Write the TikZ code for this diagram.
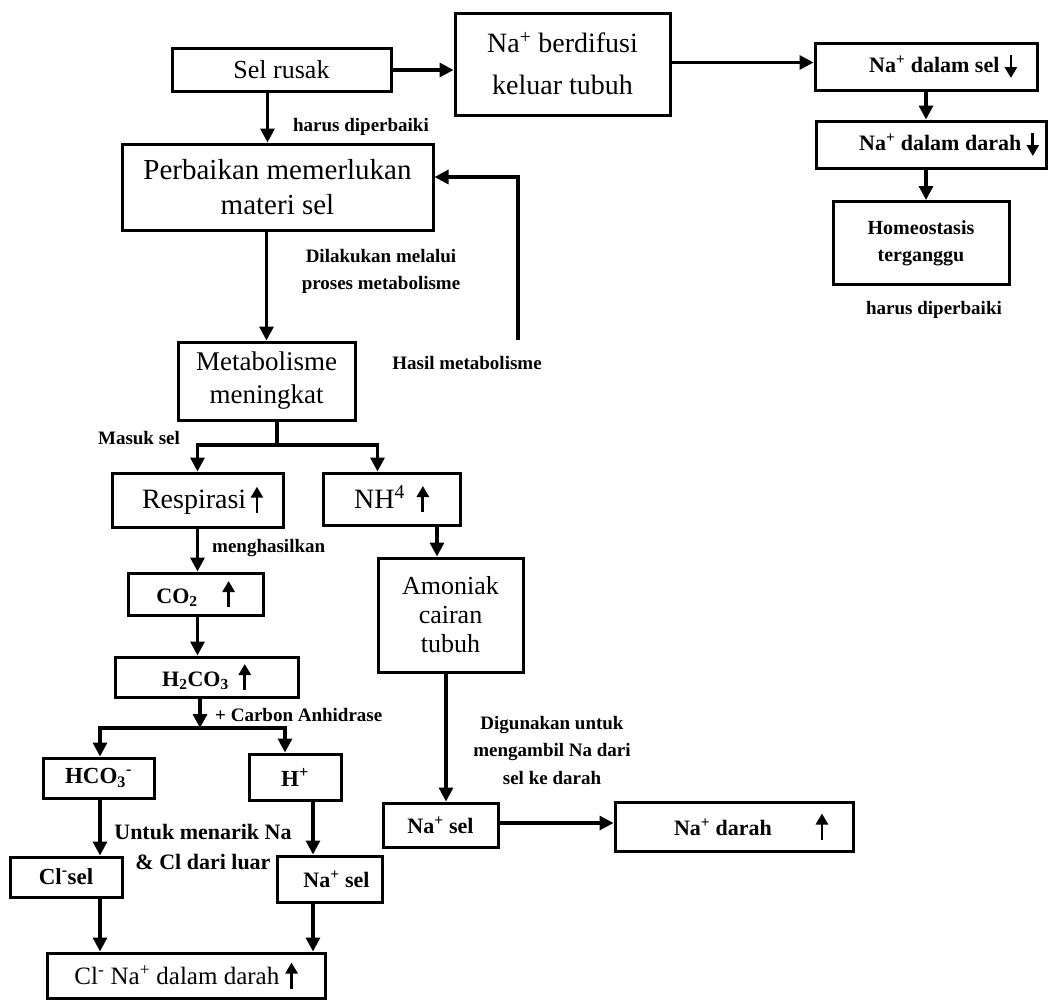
\documentclass[tikz,border=0pt]{standalone}
\usepackage{fontspec}
\setmainfont{Liberation Serif}
\usetikzlibrary{arrows.meta,calc}
\newcommand{\uparr}{\tikz[baseline=0pt]\draw[line width=2.8pt,-{Triangle[length=11pt,width=12pt]}] (0,-4pt)--(0,22pt);}
\newcommand{\dnarr}{\tikz[baseline=0pt]\draw[line width=2.8pt,-{Triangle[length=11pt,width=12pt]}] (0,17pt)--(0,-6pt);}
\begin{document}
\begin{tikzpicture}[x=1pt,y=-1pt,
  box/.style={draw,line width=3pt,inner sep=0pt,align=center},
  arr/.style={line width=3.2pt,-{Triangle[length=14pt,width=14pt]}},
  ln/.style={line width=3.2pt},
  lab/.style={font=\bfseries\fontsize{19}{27}\selectfont,align=center,inner sep=0pt}]
\useasboundingbox (0,0) rectangle (1048,1001);
% top row
\node[box,minimum width=219pt,minimum height=43pt,font=\fontsize{26}{30}\selectfont] (selrusak) at (281.5,70) {Sel rusak};
\node[box,minimum width=215pt,minimum height=102pt,font=\fontsize{28}{42}\selectfont] (difusi) at (562.5,64) {Na\textsuperscript{+} berdifusi\\keluar tubuh};
\node[box,minimum width=222pt,minimum height=47pt,font=\bfseries\fontsize{22}{25}\selectfont] (nasel) at (926,66.5) {\hspace*{34pt}Na\textsuperscript{+} dalam sel \dnarr};
\node[box,minimum width=230pt,minimum height=47pt,font=\bfseries\fontsize{22}{25}\selectfont] (nadarah) at (931,144.5) {\hspace*{36pt}Na\textsuperscript{+} dalam darah \dnarr};
\node[box,minimum width=176pt,minimum height=83pt,font=\bfseries\fontsize{20}{27}\selectfont] (homeo) at (921,243) {Homeostasis\\terganggu};
% left column
\node[box,minimum width=311pt,minimum height=86pt,font=\fontsize{29}{35}\selectfont] (perbaikan) at (277.5,187) {Perbaikan memerlukan\\materi sel};
\node[box,minimum width=177pt,minimum height=78pt,font=\fontsize{27}{33}\selectfont] (metab) at (266.5,381) {Metabolisme\\meningkat};
\node[box,minimum width=171pt,minimum height=54pt,font=\fontsize{28}{32}\selectfont] (resp) at (197.5,500) {\hspace*{10pt}Respirasi\,\uparr};
\node[box,minimum width=137pt,minimum height=52pt,font=\fontsize{28}{32}\selectfont] (nh4) at (391.5,499) {NH\textsuperscript{4}\hspace{12pt}\uparr};
\node[box,minimum width=135pt,minimum height=42pt,font=\bfseries\fontsize{22}{25}\selectfont] (co2) at (195.5,594) {CO\textsubscript{2}\hspace{25pt}\uparr};
\node[box,minimum width=183pt,minimum height=40pt,font=\bfseries\fontsize{22}{25}\selectfont] (h2co3) at (206.5,677) {H\textsubscript{2}CO\textsubscript{3}\hspace{10pt}\uparr};
\node[box,minimum width=111pt,minimum height=40pt,font=\bfseries\fontsize{23}{26}\selectfont] (hco3) at (98.5,778) {HCO\textsubscript{3}\textsuperscript{-}};
\node[box,minimum width=92pt,minimum height=46pt,font=\bfseries\fontsize{23}{26}\selectfont] (hplus) at (295,777) {H\textsuperscript{+}};
\node[box,minimum width=112pt,minimum height=40pt,font=\bfseries\fontsize{23}{26}\selectfont] (clsel) at (66,877) {Cl\textsuperscript{-}sel};
\node[box,minimum width=105pt,minimum height=46pt,font=\bfseries\fontsize{22}{25}\selectfont] (nasel2) at (329.5,879) {\hspace*{14pt}Na\textsuperscript{+} sel};
\node[box,minimum width=278pt,minimum height=45pt,font=\fontsize{25}{28}\selectfont] (bottom) at (186,975.5) {Cl\textsuperscript{-} Na\textsuperscript{+} dalam darah \uparr};
% right middle
\node[box,minimum width=145pt,minimum height=114pt,font=\fontsize{26}{29}\selectfont] (amoniak) at (450.5,615) {Amoniak\\cairan\\tubuh};
\node[box,minimum width=115pt,minimum height=44pt,font=\bfseries\fontsize{22}{25}\selectfont] (nasel3) at (440.5,825) {Na\textsuperscript{+} sel};
\node[box,minimum width=238pt,minimum height=49pt,font=\bfseries\fontsize{22}{25}\selectfont] (nadarah2) at (734,826.5) {\hspace*{34pt}Na\textsuperscript{+} darah\hspace{44pt}\uparr};
% labels
\node[lab] (l1) at (361,127) {harus diperbaiki};
\node[lab] (l2) at (934,310) {harus diperbaiki};
\node[lab] (l3) at (381,271) {Dilakukan melalui\\proses metabolisme};
\node[lab] (l4) at (467,363) {Hasil metabolisme};
\node[lab] (l5) at (139,438) {Masuk sel};
\node[lab,anchor=west] (l6) at (212,548) {menghasilkan};
\node[lab,anchor=west] (l7) at (215,715) {+ Carbon Anhidrase};
\node[lab,font=\bfseries\fontsize{22}{30}\selectfont] (l8) at (203,847) {Untuk menarik Na\\\& Cl dari luar};
\node[lab,font=\bfseries\fontsize{19}{27.5}\selectfont] (l9) at (552,750) {Digunakan untuk\\mengambil Na dari\\sel ke darah};
% connectors
\draw[arr] (selrusak.east) -- (selrusak.east -| difusi.west);
\draw[arr] ([yshift=4pt]difusi.east |- nasel.west) -- ([yshift=4pt]nasel.west);
\draw[arr] (nasel.south) -- (nasel.south |- nadarah.north);
\draw[arr] (nadarah.south -| nasel.south) -- (nasel.south |- homeo.north);
\draw[arr] ([xshift=-14pt]selrusak.south) -- ([xshift=-14pt]selrusak.south |- perbaikan.north);
\draw[arr] (perbaikan.south -| metab.north) -- (metab.north);
\coordinate (fb) at (518,340);
\draw[arr] (fb) |- ([yshift=10pt]perbaikan.east);
\coordinate (s1) at (277,445);
\draw[ln] (metab.south -| s1) -- (s1);
\draw[arr] (s1) -| (resp.north);
\draw[arr] (s1) -| ([xshift=-14pt]nh4.north);
\draw[arr] (resp.south) -- (resp.south |- co2.north);
\draw[arr] (resp.south |- co2.south) -- (resp.south |- h2co3.north);
\coordinate (s2) at (200,728);
\draw[arr] (h2co3.south -| s2) -- (s2);
\draw[arr] (s2) -| ([xshift=1.5pt]hco3.north);
\draw[arr] (s2) -| ([xshift=-10pt]hplus.north);
\draw[arr] ([xshift=1.5pt]hco3.south) -- ([xshift=1.5pt]hco3.south |- clsel.north);
\draw[arr] ([xshift=18pt]hplus.south) -- ([xshift=18pt]hplus.south |- nasel2.north);
\draw[arr] ([xshift=1.5pt]hco3.south |- clsel.south) -- ([xshift=1.5pt]hco3.south |- bottom.north);
\draw[arr] ([xshift=18pt]hplus.south |- nasel2.south) -- ([xshift=18pt]hplus.south |- bottom.north);
\draw[arr] ([xshift=45.5pt]nh4.south) -- ([xshift=45.5pt]nh4.south |- amoniak.north);
\draw[arr] ([xshift=-4.5pt]amoniak.south) -- ([xshift=-4.5pt]amoniak.south |- nasel3.north);
\draw[arr] ([yshift=2pt]nasel3.east) -- ([yshift=2pt]nasel3.east -| nadarah2.west);
\end{tikzpicture}
\end{document}
